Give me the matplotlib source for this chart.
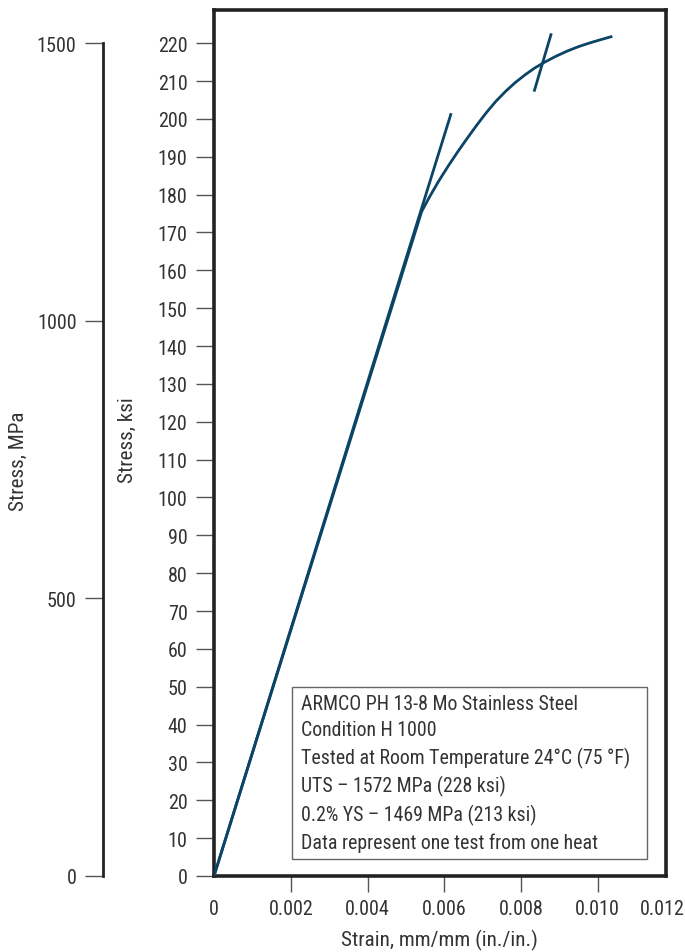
import matplotlib
matplotlib.use("Agg")
import matplotlib.pyplot as plt
import matplotlib.transforms as mtransforms
from matplotlib.patches import Rectangle
from matplotlib import font_manager

# ---------------- data ----------------
strain = [0.0, 0.00541, 0.00560, 0.00585, 0.00610, 0.00635, 0.00660, 0.00685,
          0.00710, 0.00735, 0.00760, 0.00785, 0.00810, 0.00835, 0.00860,
          0.00890, 0.00920, 0.00950, 0.00980, 0.01010, 0.01038]
stress_ksi = [0.0, 175.5, 179.1, 183.5, 187.5, 191.3, 194.9, 198.4,
              201.7, 204.7, 207.3, 209.6, 211.6, 213.4, 214.9,
              216.5, 217.9, 219.1, 220.1, 221.0, 221.8]

elastic_x = [0.0, 0.00618]
elastic_y = [0.0, 201.5]
offset_x = [0.00834, 0.00879]
offset_y = [207.2, 222.6]

ksi_ticks = list(range(0, 221, 10))
mpa_ticks = [0, 500, 1000, 1500]
strain_ticks = [0, 0.002, 0.004, 0.006, 0.008, 0.010]
strain_tick_labels = ["0", "0.002", "0.004", "0.006", "0.008", "0.010"]
strain_end_label = "0.012"

info_lines = [
    "ARMCO PH 13-8 Mo Stainless Steel",
    "Condition H 1000",
    "Tested at Room Temperature 24\u00b0C (75 \u00b0F)",
    "UTS \u2013 1572 MPa (228 ksi)",
    "0.2% YS \u2013 1469 MPa (213 ksi)",
    "Data represent one test from one heat",
]

# ---------------- style ----------------
avail = {f.name for f in font_manager.fontManager.ttflist}
condensed = None
for cand in ["Liberation Sans Narrow", "DejaVu Sans Condensed", "Roboto Condensed",
             "Open Sans Condensed", "Noto Sans Condensed"]:
    if cand in avail:
        condensed = cand
        break
if condensed is None:
    fam = "Liberation Sans"
    FS_TICK, FS_LABEL, FS_BOX, BOX_LS = 13.4, 13.8, 12.6, 1.75
else:
    fam = condensed
    FS_TICK, FS_LABEL, FS_BOX, BOX_LS = 14.5, 15.2, 14.3, 1.46
plt.rcParams['font.family'] = [fam, 'DejaVu Sans']

curve_color = "#0b4466"
spine_color = "#222222"
text_color = "#333333"
tick_color = "#555555"

fig = plt.figure(figsize=(6.85, 9.53), dpi=100)
W, H = 685, 953
ax_left, ax_right, ax_top, ax_bot = 214, 665.7, 10.5, 877
ax = fig.add_axes([ax_left / W, 1 - ax_bot / H, (ax_right - ax_left) / W, (ax_bot - ax_top) / H])

XMAX = 0.01177
YMAX = 228.9
ax.set_xlim(0, XMAX)
ax.set_ylim(0, YMAX)

ax.plot(strain, stress_ksi, color=curve_color, lw=2.0, solid_capstyle='butt', zorder=3)
ax.plot(elastic_x, elastic_y, color=curve_color, lw=2.0, solid_capstyle='butt', zorder=3)
ax.plot(offset_x, offset_y, color=curve_color, lw=2.0, solid_capstyle='butt', zorder=3)

for s in ax.spines.values():
    s.set_linewidth(2.6)
    s.set_color(spine_color)

# x ticks
ax.set_xticks(strain_ticks + [XMAX])
ax.set_xticklabels(strain_tick_labels + [strain_end_label])
ax.tick_params(axis='x', direction='out', length=11.5, width=1.0, color=tick_color,
               labelsize=FS_TICK, labelcolor=text_color, pad=5)
xt = ax.xaxis.get_major_ticks()
xt[0].tick1line.set_visible(False)
xt[-1].tick1line.set_visible(False)
shift = mtransforms.ScaledTranslation(-3 / 100, 0, fig.dpi_scale_trans)
xt[-1].label1.set_transform(xt[-1].label1.get_transform() + shift)

# ksi ticks
ax.set_yticks(ksi_ticks)
ax.set_yticklabels([str(v) for v in ksi_ticks])
ax.tick_params(axis='y', direction='out', length=13, width=1.0, color=tick_color,
               labelsize=FS_TICK, labelcolor=text_color, pad=6)
ax.yaxis.get_major_ticks()[0].tick1line.set_visible(False)

# MPa axis
ax2 = ax.twinx()
ax2.set_ylim(0, YMAX * 1500 / 220)
for k in ['top', 'right', 'bottom']:
    ax2.spines[k].set_visible(False)
ax2.spines['left'].set_visible(True)
ax2.spines['left'].set_position(('axes', (103 - ax_left) / (ax_right - ax_left)))
ax2.spines['left'].set_bounds(0, 1500)
ax2.spines['left'].set_linewidth(2.0)
ax2.spines['left'].set_color(spine_color)
ax2.yaxis.set_ticks_position('left')
ax2.set_yticks(mpa_ticks)
ax2.set_yticklabels([str(v) for v in mpa_ticks])
ax2.tick_params(axis='y', direction='out', length=13, width=1.0, color=tick_color,
                labelsize=FS_TICK, labelcolor=text_color, pad=6)

# axis labels
def ax_x(px):
    return (px - ax_left) / (ax_right - ax_left)

def ax_y(py):
    return (ax_bot - py) / (ax_bot - ax_top)

ax.text(ax_x(18.5), ax_y(461), "Stress, MPa", rotation=90, ha='center', va='center',
        fontsize=FS_LABEL, color=text_color, transform=ax.transAxes)
ax.text(ax_x(127), ax_y(440), "Stress, ksi", rotation=90, ha='center', va='center',
        fontsize=FS_LABEL, color=text_color, transform=ax.transAxes)
ax.text(0.5, ax_y(940), "Strain, mm/mm (in./in.)", ha='center', va='center',
        fontsize=FS_LABEL, color=text_color, transform=ax.transAxes)

# info box
bx0, bx1, by0, by1 = ax_x(291.7), ax_x(646.7), ax_y(860), ax_y(688.3)
ax.add_patch(Rectangle((bx0, by0), bx1 - bx0, by1 - by0, transform=ax.transAxes,
                       fill=True, facecolor='white', edgecolor='#666666', lw=1.0, zorder=4))
ax.text(ax_x(301), ax_y(774), "\n".join(info_lines), ha='left', va='center',
        fontsize=FS_BOX, color=text_color, transform=ax.transAxes, linespacing=BOX_LS, zorder=5)

fig.savefig("out.png", dpi=100)
